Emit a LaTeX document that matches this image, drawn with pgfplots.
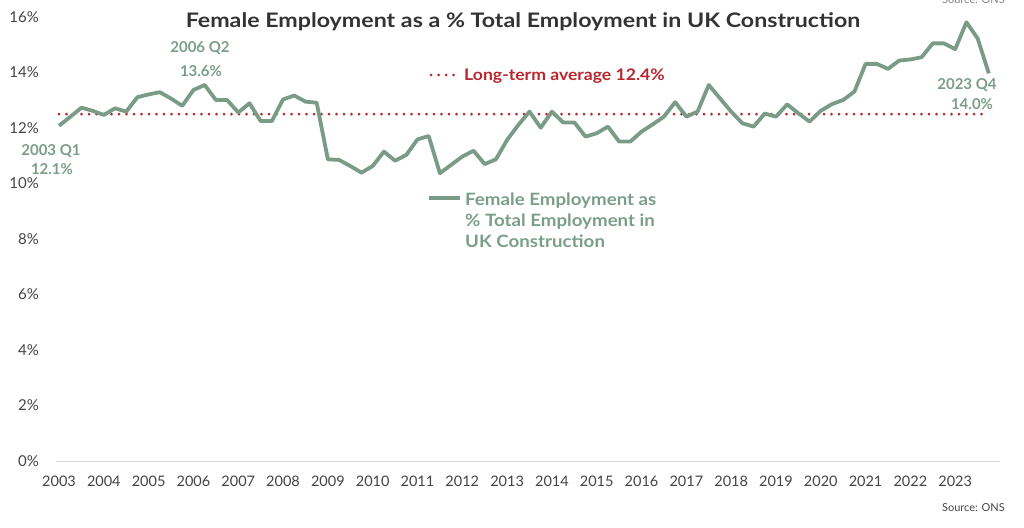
\documentclass[border=0pt]{standalone}
\usepackage{pgfplots}
\pgfplotsset{compat=1.18}
\usepackage{fontspec}
\setmainfont{Lato}
\definecolor{sage}{HTML}{7A9C86}
\definecolor{sagetext}{HTML}{7A9E88}
\definecolor{avgred}{HTML}{B8262E}
\definecolor{tickgray}{HTML}{444444}
\definecolor{titlegray}{HTML}{333333}
\begin{document}
\begin{tikzpicture}
\begin{axis}[name=ax, scale only axis, width=944pt, height=444pt,
  xmin=-0.27, xmax=84, ymin=0, ymax=16,
  axis line style={draw=none}, major tick length=0pt,
  xtick={0,4,...,80},
  xticklabels={2003,2004,2005,2006,2007,2008,2009,2010,2011,2012,2013,2014,2015,2016,2017,2018,2019,2020,2021,2022,2023},
  ytick={0,2,...,16},
  yticklabel={\pgfmathprintnumber{\tick}\%},
  /pgf/number format/assume math mode=true,
  yticklabel style={anchor=east, inner sep=0pt, xshift=-17pt, font=\fontsize{15}{18}\selectfont, text=tickgray},
  xticklabel style={anchor=base, inner sep=0pt, yshift=-25pt, font=\fontsize{14.5}{17}\selectfont, text=tickgray},
  clip=false]
\draw[gray!30, line width=1pt] (axis cs:-0.27,0) -- (axis cs:84,0);
\addplot[avgred, line width=3pt, line cap=round, dash pattern=on 0pt off 7.5pt] coordinates {(0,12.5) (83,12.5)};
\addplot[sage, line width=3.8pt, line join=round] table {
x y
0 12.08
1 12.40
2 12.73
3 12.62
4 12.47
5 12.71
6 12.59
7 13.11
8 13.21
9 13.29
10 13.06
11 12.80
12 13.37
13 13.55
14 13.01
15 13.01
16 12.56
17 12.89
18 12.25
19 12.25
20 13.03
21 13.17
22 12.95
23 12.91
24 10.87
25 10.85
26 10.63
27 10.39
28 10.63
29 11.15
30 10.82
31 11.03
32 11.59
33 11.71
34 10.37
35 10.67
36 10.97
37 11.18
38 10.70
39 10.87
40 11.57
41 12.11
42 12.59
43 12.01
44 12.59
45 12.20
46 12.20
47 11.69
48 11.81
49 12.05
50 11.51
51 11.51
52 11.87
53 12.13
54 12.41
55 12.93
56 12.41
57 12.59
58 13.55
59 13.07
60 12.59
61 12.17
62 12.05
63 12.52
64 12.41
65 12.85
66 12.53
67 12.23
68 12.62
69 12.86
70 13.01
71 13.31
72 14.31
73 14.31
74 14.13
75 14.43
76 14.47
77 14.55
78 15.05
79 15.05
80 14.84
81 15.81
82 15.23
83 13.97
};
\end{axis}
\begin{scope}[x=1pt, y=-1pt, shift={(-56pt,461pt)}]
\node[anchor=base, inner sep=0pt, xscale=1.16, text=titlegray, font=\fontsize{20}{23}\selectfont\bfseries] at (523,27.5) {Female Employment as a \% Total Employment in UK Construction};
\node[anchor=base east, inner sep=0pt, text=gray, font=\fontsize{11}{13}\selectfont] at (1005,4) {Source: ONS};
\node[anchor=base east, inner sep=0pt, text=tickgray, font=\fontsize{11}{13}\selectfont] at (1005,511) {Source: ONS};
% long-term average label
\draw[avgred, line width=3pt, line cap=round, dash pattern=on 0pt off 7.5pt] (431,75) -- (460,75);
\node[anchor=base west, inner sep=0pt, xscale=1.1, text=avgred, font=\fontsize{16}{19}\selectfont\bfseries] at (464,80.5) {Long-term average 12.4\%};
% annotations
\begin{scope}[every node/.style={anchor=base, inner sep=0pt, text=sagetext, font=\fontsize{15}{18}\selectfont\bfseries}]
\node at (200,52.5) {2006 Q2};
\node at (201,76.5) {13.6\%};
\node at (51,155.5) {2003 Q1};
\node at (52,174.5) {12.1\%};
\node at (967,89.5) {2023 Q4};
\node at (972,109.5) {14.0\%};
\end{scope}
% legend
\draw[sage, line width=3.8pt] (429,198) -- (460,198);
\begin{scope}[every node/.style={anchor=base west, inner sep=0pt, xscale=1.1, text=sagetext, font=\fontsize{17}{20}\selectfont\bfseries}]
\node at (465,206) {Female Employment as};
\node at (465,227) {\% Total Employment in};
\node at (465,247.5) {UK Construction};
\end{scope}
\pgfresetboundingbox
\path[use as bounding box] (0,0) rectangle (1024,527);
\end{scope}
\end{tikzpicture}
\end{document}
